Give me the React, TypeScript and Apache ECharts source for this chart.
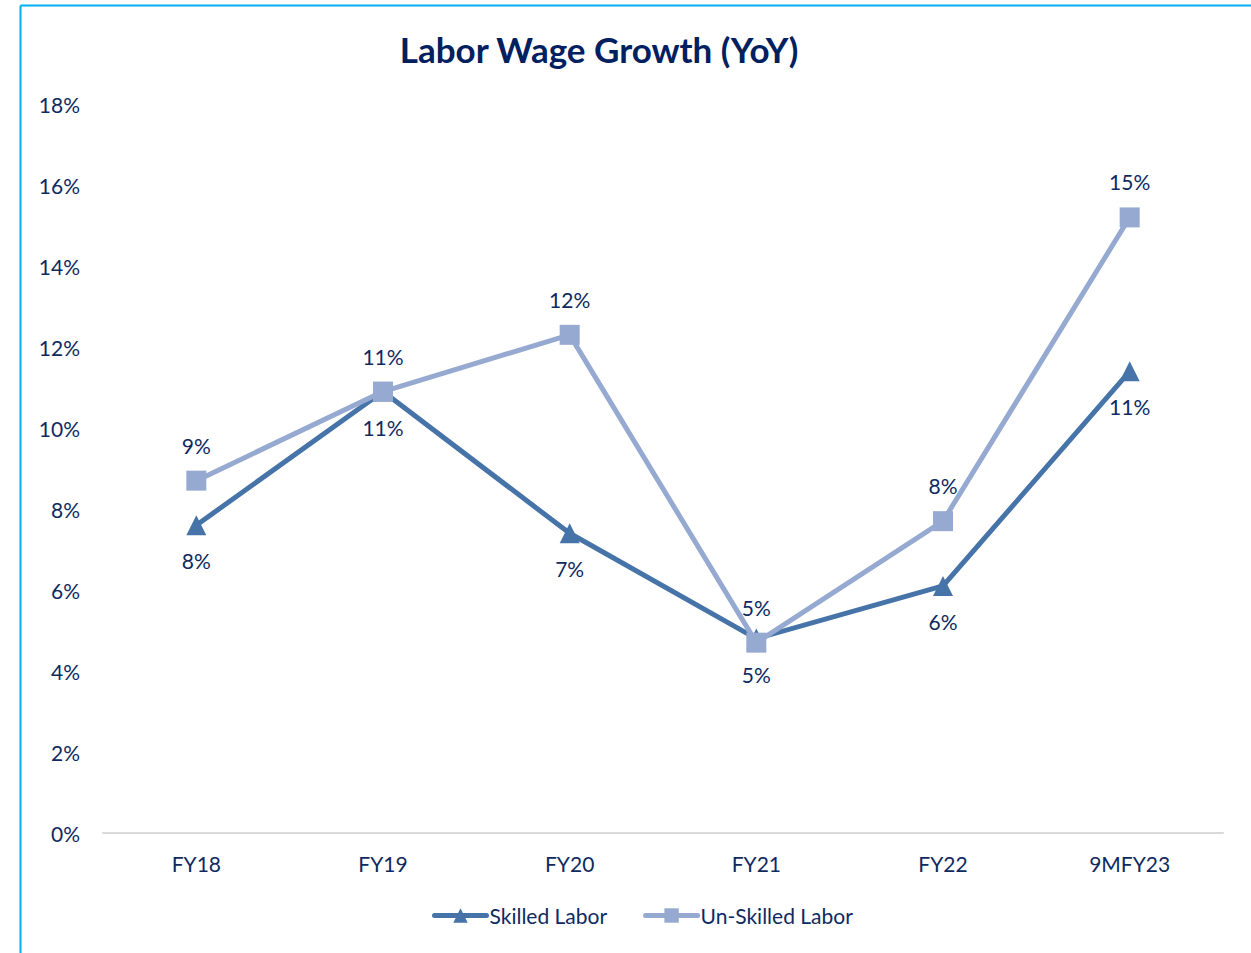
import React, { useEffect, useRef } from "react";
import * as echarts from "echarts";

const categories = ["FY18", "FY19", "FY20", "FY21", "FY22", "9MFY23"];
const skilledLabor = [7.6, 10.9, 7.4, 4.8, 6.1, 11.4];
const unskilledLabor = [8.7, 10.9, 12.3, 4.7, 7.7, 15.2];
const seriesNames = ["Skilled Labor", "Un-Skilled Labor"];
const titleText = "Labor Wage Growth (YoY)";

const FONT = "Lato, 'Noto Sans', sans-serif";
const TEXT = "#0F2A5F";
const SKILLED = "#4673A8";
const UNSKILLED = "#96AAD1";

export default function App() {
  const ref = useRef<HTMLDivElement>(null);
  useEffect(() => {
    if (!ref.current) return;
    const chart = echarts.init(ref.current, undefined, { renderer: "svg" });
    const labelFmt = (p: any) => Math.round(p.value) + "%";
    chart.setOption({
      animation: false,
      backgroundColor: "#ffffff",
      textStyle: { fontFamily: FONT },
      title: {
        text: titleText,
        left: 594,
        textAlign: "center",
        top: 26,
        textStyle: { fontFamily: FONT, fontWeight: "bold", fontSize: 35, color: "#002060" },
      },
      graphic: [
        { type: "line", shape: { x1: 20.5, y1: 5.5, x2: 1251, y2: 5.5 }, style: { stroke: "#00B0F0", lineWidth: 2 } },
        { type: "line", shape: { x1: 20.5, y1: 5.5, x2: 20.5, y2: 953 }, style: { stroke: "#00B0F0", lineWidth: 2 } },
      ],
      grid: { left: 103, right: 28, top: 104, bottom: 120, containLabel: false },
      legend: {
        bottom: 22,
        left: 427,
        itemWidth: 52,
        itemHeight: 18,
        itemGap: 36,
        textStyle: { fontFamily: FONT, fontSize: 21, color: TEXT, padding: [0, 0, 0, -2] },
        data: [
          { name: seriesNames[0], lineStyle: { width: 5, cap: "round", color: SKILLED } },
          { name: seriesNames[1], lineStyle: { width: 5, cap: "round", color: UNSKILLED } },
        ],
      },
      xAxis: {
        type: "category",
        data: categories,
        boundaryGap: true,
        axisLine: { lineStyle: { color: "#D9D9D9", width: 2 } },
        axisTick: { show: false },
        axisLabel: { fontFamily: FONT, fontSize: 21, color: TEXT, margin: 20 },
      },
      yAxis: {
        type: "value",
        min: 0,
        max: 18,
        interval: 2,
        splitLine: { show: false },
        axisLine: { show: false },
        axisTick: { show: false },
        axisLabel: { fontFamily: FONT, fontSize: 21, color: TEXT, margin: 23, formatter: "{value}%" },
      },
      series: [
        {
          name: seriesNames[0],
          type: "line",
          data: skilledLabor,
          symbol: "triangle",
          symbolSize: 20,
          lineStyle: { color: SKILLED, width: 5 },
          itemStyle: { color: SKILLED },
          label: {
            show: true,
            position: "bottom",
            distance: 15,
            formatter: labelFmt,
            fontFamily: FONT,
            fontSize: 21,
            color: TEXT,
          },
        },
        {
          name: seriesNames[1],
          type: "line",
          data: unskilledLabor,
          symbol: "rect",
          symbolSize: 20,
          lineStyle: { color: UNSKILLED, width: 5 },
          itemStyle: { color: UNSKILLED },
          label: {
            show: true,
            position: "top",
            distance: 15,
            formatter: labelFmt,
            fontFamily: FONT,
            fontSize: 21,
            color: TEXT,
          },
        },
      ],
    });
    return () => chart.dispose();
  }, []);
  return (
    <div
      ref={ref}
      style={{ position: "absolute", left: 0, top: 0, width: 1251, height: 953 }}
    />
  );
}
